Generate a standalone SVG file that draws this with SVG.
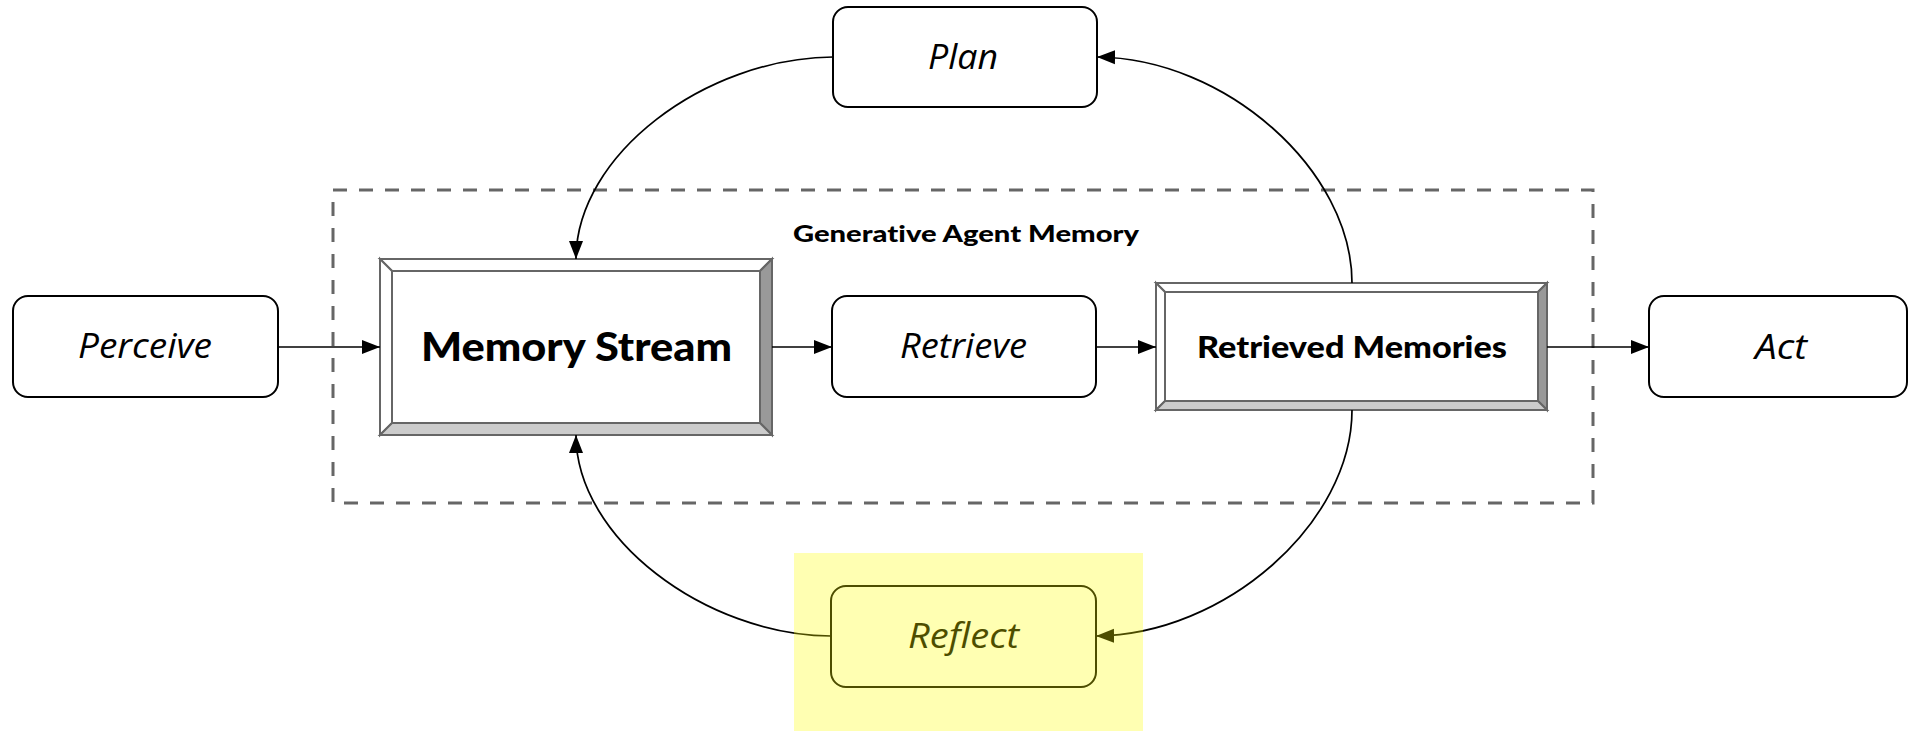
<svg xmlns="http://www.w3.org/2000/svg" width="1908" height="731" viewBox="0 0 1908 731">
  <style>
    .step { fill: #ffffff; stroke: #000000; stroke-width: 2; }
    .step-label { font-family: "Open Sans", "Liberation Sans", sans-serif; font-style: italic; font-size: 34px; fill: #000000; text-anchor: middle; }
    .store-frame { stroke: #666666; stroke-width: 2; stroke-linejoin: miter; }
    .store-label { font-family: "Lato", "Liberation Sans", sans-serif; font-weight: 900; fill: #000000; text-anchor: middle; font-variant-ligatures: none; }
    .group-box { fill: none; stroke: #666666; stroke-width: 3; stroke-dasharray: 14 12; }
    .group-label { font-family: "Lato", "Liberation Sans", sans-serif; font-weight: 900; font-size: 22px; fill: #000000; text-anchor: middle; font-variant-ligatures: none; }
    .edge { fill: none; stroke: #000000; stroke-width: 1.7; marker-end: url(#arrow); }
  </style>
  <defs>
    <marker id="arrow" markerUnits="userSpaceOnUse" markerWidth="19" markerHeight="15" refX="18" refY="7.5" orient="auto" viewBox="0 0 19 15">
      <path d="M0,0.5 L18,7.5 L0,14.5 Z" fill="#000000"/>
    </marker>
  </defs>

  <rect width="1908" height="731" fill="#ffffff"/>

  <!-- memory container -->
  <g id="generative-agent-memory">
    <rect class="group-box" x="333" y="190" width="1260" height="313"/>
    <text class="group-label" x="966" y="242" textLength="346" lengthAdjust="spacingAndGlyphs">Generative Agent Memory</text>
  </g>

  <g id="perceive">
    <rect class="step" x="13" y="296" width="265" height="101" rx="15"/>
    <text class="step-label" x="145" y="358" textLength="134" lengthAdjust="spacingAndGlyphs">Perceive</text>
  </g>

  <g id="plan">
    <rect class="step" x="833" y="7" width="264" height="100" rx="15"/>
    <text class="step-label" x="963" y="69" textLength="70" lengthAdjust="spacingAndGlyphs">Plan</text>
  </g>

  <g id="retrieve">
    <rect class="step" x="832" y="296" width="264" height="101" rx="15"/>
    <text class="step-label" x="963.5" y="358" textLength="127" lengthAdjust="spacingAndGlyphs">Retrieve</text>
  </g>

  <g id="act">
    <rect class="step" x="1649" y="296" width="258" height="101" rx="15"/>
    <text class="step-label" x="1781" y="359" textLength="52" lengthAdjust="spacingAndGlyphs">Act</text>
  </g>

  <g id="reflect">
    <rect class="step" x="831" y="586" width="265" height="101" rx="15"/>
    <text class="step-label" x="963.5" y="648" textLength="111" lengthAdjust="spacingAndGlyphs">Reflect</text>
  </g>

  <!-- bevelled store: Memory Stream -->
  <g id="memory-stream">
    <rect class="store-frame" x="380" y="259" width="392" height="176" fill="#ffffff"/>
    <polygon class="store-frame" points="380,259 772,259 760,271 392,271" fill="#ffffff"/>
    <polygon class="store-frame" points="380,259 392,271 392,423 380,435" fill="#ffffff"/>
    <polygon class="store-frame" points="772,259 772,435 760,423 760,271" fill="#999999"/>
    <polygon class="store-frame" points="380,435 392,423 760,423 772,435" fill="#cccccc"/>
    <rect class="store-frame" x="392" y="271" width="368" height="152" fill="#ffffff"/>
    <text class="store-label" x="576.5" y="361" font-size="39" textLength="311" lengthAdjust="spacingAndGlyphs">Memory Stream</text>
  </g>

  <!-- bevelled store: Retrieved Memories -->
  <g id="retrieved-memories">
    <rect class="store-frame" x="1156" y="283" width="391" height="127" fill="#ffffff"/>
    <polygon class="store-frame" points="1156,283 1547,283 1538,292 1165,292" fill="#ffffff"/>
    <polygon class="store-frame" points="1156,283 1165,292 1165,401 1156,410" fill="#ffffff"/>
    <polygon class="store-frame" points="1547,283 1547,410 1538,401 1538,292" fill="#999999"/>
    <polygon class="store-frame" points="1156,410 1165,401 1538,401 1547,410" fill="#cccccc"/>
    <rect class="store-frame" x="1165" y="292" width="373" height="109" fill="#ffffff"/>
    <text class="store-label" x="1352" y="358" font-size="30" font-weight="800" textLength="310" lengthAdjust="spacingAndGlyphs">Retrieved Memories</text>
  </g>

  <g id="connectors">
    <path class="edge" d="M278,347 L380,347"/>
    <path class="edge" d="M772,347 L832,347"/>
    <path class="edge" d="M1096,347 L1156,347"/>
    <path class="edge" d="M1547,347 L1649,347"/>
    <!-- Retrieved Memories -> Plan -->
    <path class="edge" d="M1352,283 C1352,170 1225,58 1097,57"/>
    <!-- Plan -> Memory Stream -->
    <path class="edge" d="M833,57 C705,58 576,155 576,259"/>
    <!-- Retrieved Memories -> Reflect -->
    <path class="edge" d="M1352,410 C1352,523 1225,635 1096,636"/>
    <!-- Reflect -> Memory Stream -->
    <path class="edge" d="M831,636 C705,635 576,538 576,435"/>
  </g>

  <!-- translucent highlight over the reflection step -->
  <g id="highlight">
    <rect x="794" y="553" width="349" height="178" fill="#ffff00" fill-opacity="0.3"/>
  </g>
</svg>
